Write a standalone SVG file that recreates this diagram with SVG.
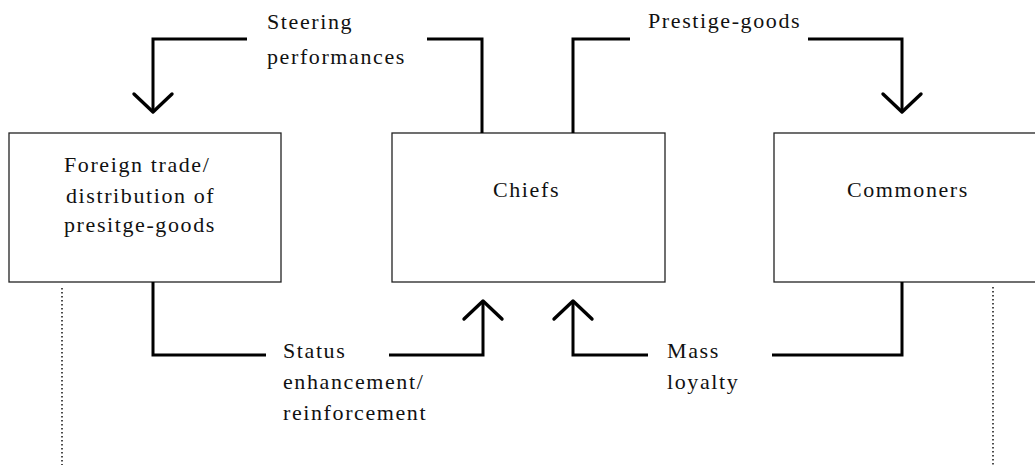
<svg xmlns="http://www.w3.org/2000/svg" width="1035" height="465" viewBox="0 0 1035 465">
<style>
.box{fill:#fff;stroke:#222;stroke-width:1.3}
.lbl{font-family:"Liberation Serif","Times New Roman",serif;font-size:22px;letter-spacing:1.6px;fill:#111}
.con{fill:none;stroke:#000;stroke-width:3;stroke-linejoin:miter;stroke-linecap:butt}
.dot{fill:none;stroke:#000;stroke-width:1.4;stroke-dasharray:1.4 2.6}
</style>
<defs>
<marker id="chev" viewBox="-24 -24 48 48" refX="0" refY="0" markerWidth="48" markerHeight="48" markerUnits="userSpaceOnUse" orient="auto">
<path d="M-18,-19 L0,0 L-18,19" fill="none" stroke="#000" stroke-width="3.4" stroke-linejoin="round" stroke-linecap="round"/>
</marker>
</defs>
<rect width="1035" height="465" fill="#fff"/>
<g id="node-foreign">
<rect class="box" x="9" y="133" width="272" height="149"/>
<text class="lbl" x="64" y="172">Foreign trade/</text>
<text class="lbl" x="66" y="203">distribution of</text>
<text class="lbl" x="64" y="232">presitge-goods</text>
</g>
<g id="node-chiefs">
<rect class="box" x="392" y="133" width="273" height="149"/>
<text class="lbl" x="493" y="197">Chiefs</text>
</g>
<g id="node-commoners">
<rect class="box" x="774" y="133" width="280" height="149"/>
<text class="lbl" x="847" y="197">Commoners</text>
</g>
<g id="connectors">
<path class="con" d="M482,133 V39 H427"/>
<path class="con" d="M247,39 H153 V112" marker-end="url(#chev)"/>
<path class="con" d="M573,133 V39 H630"/>
<path class="con" d="M808,39 H902 V112" marker-end="url(#chev)"/>
<path class="con" d="M153,282 V355 H266"/>
<path class="con" d="M389,355 H483 V301" marker-end="url(#chev)"/>
<path class="con" d="M902,282 V355 H772"/>
<path class="con" d="M648,355 H573 V301" marker-end="url(#chev)"/>
<path class="dot" d="M62,288 V465"/>
<path class="dot" d="M993,287 V465"/>
</g>
<g id="labels">
<text class="lbl" x="267" y="29">Steering</text>
<text class="lbl" x="267" y="64">performances</text>
<text class="lbl" x="648" y="28">Prestige-goods</text>
<text class="lbl" x="283" y="358">Status</text>
<text class="lbl" x="283" y="389">enhancement/</text>
<text class="lbl" x="283" y="420">reinforcement</text>
<text class="lbl" x="667" y="358">Mass</text>
<text class="lbl" x="667" y="389">loyalty</text>
</g>
</svg>
